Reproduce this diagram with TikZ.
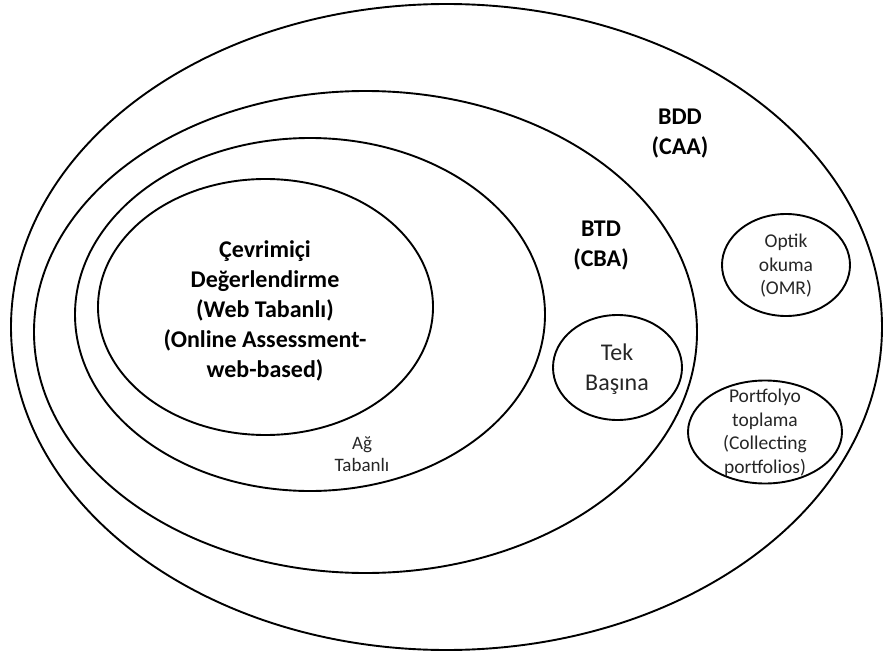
\documentclass[tikz,border=0pt]{standalone}
\usepackage{fontspec}
\setmainfont{Carlito}
\usetikzlibrary{shapes.geometric}
\tikzset{
  ring/.style={draw=black, line width=1.9pt, ellipse, inner sep=0pt, minimum width=#1},
  heading/.style={align=center, font=\bfseries\fontsize{24}{30}\selectfont},
  plainlabel/.style={align=center, font=\fontsize{24}{30}\selectfont, text=black!85},
  smalllabel/.style={align=center, font=\fontsize{19.5}{23.5}\selectfont, text=black!85},
  tinylabel/.style={align=center, font=\fontsize{19}{22}\selectfont, text=black!85}
}
\begin{document}
\begin{tikzpicture}[x=1pt,y=-1pt]
  \useasboundingbox (0,0) rectangle (884,661);
  % nested areas
  \node[ring=871pt, minimum height=646pt] (caa) at (446.5,327) {};
  \node[ring=663pt, minimum height=482pt] (cba) at (365.5,332) {};
  \node[ring=470pt, minimum height=353pt] (ag)  at (310,314.5) {};
  \node[ring=335pt, minimum height=256pt] (web) at (265.5,307) {};
  % stand-alone and other methods
  \node[ring=129pt, minimum height=105pt] (tek)  at (617.5,367.5) {};
  \node[ring=128pt, minimum height=102pt] (omr)  at (786,265) {};
  \node[ring=154pt, minimum height=103pt] (port) at (765,432) {};
  % labels
  \node[heading] (webtxt) at (265,311) {Çevrimiçi\\Değerlendirme\\(Web Tabanlı)\\(Online Assessment-\\web-based)};
  \node[heading] (caatxt) at (680,134) {BDD\\(CAA)};
  \node[heading] (cbatxt) at (601,246) {BTD\\(CBA)};
  \node[plainlabel] (tektxt) at (617,369) {Tek\\Başına};
  \node[smalllabel] (omrtxt) at (786,266) {Optik\\okuma\\(OMR)};
  \node[smalllabel] (porttxt) at (765,433) {Portfolyo\\toplama\\(Collecting\\portfolios)};
  \node[tinylabel] (agtxt) at (362,454) {Ağ\\Tabanlı};
\end{tikzpicture}
\end{document}
